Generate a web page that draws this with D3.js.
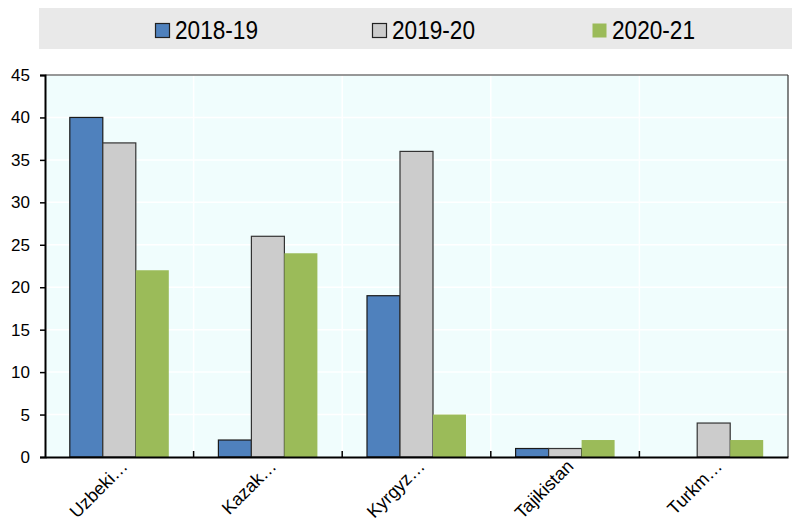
<!DOCTYPE html>
<html lang="en">
<head>
<meta charset="UTF-8">
<title>Bar chart</title>
<style>
  body { margin: 0; background: #fff; }
  svg { display: block; font-family: Arial, "Liberation Sans", sans-serif; }
</style>
</head>
<body>
<svg id="chart" width="792" height="525"></svg>
<script src="https://cdnjs.cloudflare.com/ajax/libs/d3/7.8.5/d3.min.js"></script>
<script>
// data
let categories = ["Uzbeki…", "Kazak…", "Kyrgyz…", "Tajikistan", "Turkm…"];
let seriesNames = ["2018-19", "2019-20", "2020-21"];
let v2018 = [40, 2, 19, 1, 0];
let v2019 = [37, 26, 36, 1, 4];
let v2020 = [22, 24, 5, 2, 2];
let yTicks = [0, 5, 10, 15, 20, 25, 30, 35, 40, 45];

let colors = ["#4f81bd", "#cccccc", "#9bbb59"];
let strokes = ["#1a1a1a", "#333333", "none"];

let margin = {top: 75, right: 4, bottom: 68, left: 45};
let width = 792, height = 525;

let svg = d3.select("#chart");

let x = d3.scaleBand()
    .domain(categories)
    .range([margin.left, width - margin.right]);

let xs = d3.scaleBand()
    .domain(seriesNames)
    .range([0, 99]);

let y = d3.scaleLinear()
    .domain([0, 45])
    .range([height - margin.bottom, margin.top]);

// legend band
svg.append("rect")
    .attr("x", 39).attr("y", 8)
    .attr("width", 753).attr("height", 41)
    .attr("fill", "#e9e9e9");

let legX = [155, 372, 592];
seriesNames.forEach((s, i) => {
  let g = svg.append("g").attr("transform", "translate(" + legX[i] + ",23)");
  g.append("rect")
      .attr("x", 0.5).attr("y", 0.5)
      .attr("width", 14).attr("height", 14)
      .attr("fill", colors[i])
      .attr("stroke", strokes[i] == "none" ? "none" : "#222")
      .attr("stroke-width", 1.2);
  g.append("text")
      .attr("transform", "translate(20,16) scale(0.87,1)")
      .style("font-size", "26px")
      .attr("fill", "#000")
      .text(s);
});

// plot background
svg.append("rect")
    .attr("x", margin.left).attr("y", margin.top)
    .attr("width", width - margin.right - margin.left)
    .attr("height", height - margin.bottom - margin.top)
    .attr("fill", "#f0fdfd");

// gridlines
svg.append("g")
    .selectAll("line")
    .data(yTicks.slice(1))
    .enter()
    .append("line")
    .attr("x1", margin.left).attr("x2", width - margin.right)
    .attr("y1", d => y(d)).attr("y2", d => y(d))
    .attr("stroke", "#fff").attr("stroke-width", 1.5);

svg.append("g")
    .selectAll("line")
    .data(categories.slice(1))
    .enter()
    .append("line")
    .attr("x1", d => x(d)).attr("x2", d => x(d))
    .attr("y1", margin.top).attr("y2", height - margin.bottom)
    .attr("stroke", "#fff").attr("stroke-width", 1.5);

// bars
let all = [v2018, v2019, v2020];
let pad = (x.bandwidth() - 99) / 2;
all.forEach((vals, si) => {
  svg.append("g")
      .selectAll("rect")
      .data(vals)
      .enter()
      .filter(d => d > 0)
      .append("rect")
      .attr("x", (d, i) => x(categories[i]) + pad + xs(seriesNames[si]))
      .attr("y", d => y(d))
      .attr("width", xs.bandwidth())
      .attr("height", d => y(0) - y(d))
      .attr("fill", colors[si])
      .attr("stroke", strokes[si])
      .attr("stroke-width", 1.2);
});

// top and right border
svg.append("line")
    .attr("x1", margin.left).attr("x2", width - margin.right)
    .attr("y1", margin.top).attr("y2", margin.top)
    .attr("stroke", "#333").attr("stroke-width", 1.2);
svg.append("line")
    .attr("x1", width - margin.right).attr("x2", width - margin.right)
    .attr("y1", margin.top).attr("y2", height - margin.bottom)
    .attr("stroke", "#333").attr("stroke-width", 1.2);

// y axis
let yAxis = svg.append("g")
    .attr("transform", "translate(" + margin.left + ",0)")
    .call(d3.axisLeft(y).tickValues(yTicks).tickSize(5).tickPadding(10));
yAxis.select(".domain").attr("stroke", "#000").attr("stroke-width", 2);
yAxis.selectAll("line").attr("stroke", "#000").attr("stroke-width", 1.5);
yAxis.selectAll("text")
    .style("font-size", "17px")
    .attr("fill", "#000");

// x axis
let xAxis = svg.append("g")
    .attr("transform", "translate(0," + y(0) + ")")
    .call(d3.axisBottom(x).tickSize(0));
xAxis.select(".domain").attr("stroke", "#000").attr("stroke-width", 2);
xAxis.selectAll("text")
    .style("font-size", "18px")
    .attr("fill", "#000")
    .attr("text-anchor", "end")
    .attr("x", 0).attr("y", 0)
    .attr("dy", "0.35em")
    .attr("transform", "translate(5,6) rotate(-45)");

// boundary ticks pointing up
svg.append("g")
    .selectAll("line")
    .data(categories.slice(1))
    .enter()
    .append("line")
    .attr("x1", d => x(d)).attr("x2", d => x(d))
    .attr("y1", y(0)).attr("y2", y(0) - 6)
    .attr("stroke", "#000").attr("stroke-width", 1.5);
</script>
</body>
</html>
